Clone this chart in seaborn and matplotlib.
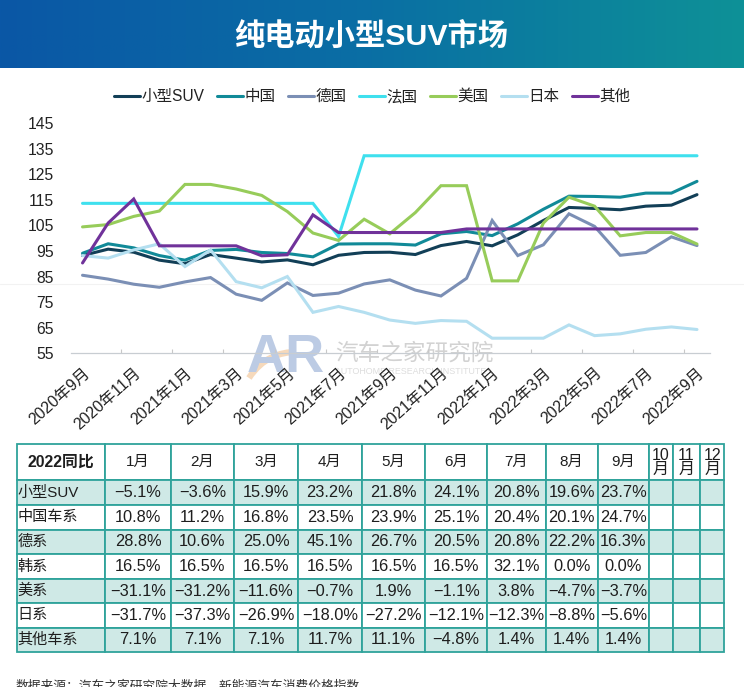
import numpy as np
import pandas as pd
import seaborn as sns
import matplotlib
matplotlib.use("Agg")
import matplotlib.pyplot as plt
from matplotlib.ticker import FixedLocator
from matplotlib.path import Path
from matplotlib.patches import PathPatch
from matplotlib.transforms import ScaledTranslation

months = ["2020年9月","2020年10月","2020年11月","2020年12月","2021年1月","2021年2月","2021年3月","2021年4月","2021年5月",
          "2021年6月","2021年7月","2021年8月","2021年9月","2021年10月","2021年11月","2021年12月","2022年1月","2022年2月",
          "2022年3月","2022年4月","2022年5月","2022年6月","2022年7月","2022年8月","2022年9月"]
small_suv = [93.2,95.7,94.5,91.4,90.0,93.6,92.2,90.7,91.5,89.6,93.3,94.4,94.5,93.6,97.1,98.7,97.0,101.3,106.9,112.0,111.6,111.1,112.5,112.9,117.0]
china = [94.1,97.8,96.2,93.2,91.4,95.2,95.6,94.4,94.0,92.7,97.7,97.8,97.8,97.3,101.7,102.6,101.0,105.6,111.3,116.4,116.3,116.0,117.6,117.6,122.2]
germany = [85.5,84.0,82.0,80.8,82.9,84.6,78.1,75.7,82.5,77.6,78.5,82.1,83.7,79.7,77.4,84.3,106.9,93.2,97.4,109.5,104.6,93.3,94.4,100.5,97.1]
france = [113.6]*10 + [100.6] + [132.2]*14
usa = [104.4,105.3,108.5,110.6,121.0,121.0,119.2,116.7,110.4,102.0,99.1,107.4,101.7,110.0,120.5,120.5,83.3,83.3,105.9,116.0,112.5,100.9,102.2,102.2,97.7]
japan = [93.2,92.2,95.4,97.8,88.9,95.4,83.0,80.6,85.0,71.0,73.3,71.0,68.0,66.7,67.8,67.5,60.9,60.9,60.9,66.1,61.9,62.6,64.4,65.3,64.3]
other = [90.3,105.9,115.3,97.0,97.0,97.0,97.0,93.1,93.5,109.1,102.2,102.2,102.2,102.2,102.2,103.6,103.6,103.6,103.6,103.6,103.6,103.6,103.6,103.6,103.6]

series_names = ["小型SUV","中国","德国","法国","美国","日本","其他"]
series_values = [small_suv,china,germany,france,usa,japan,other]
colors = ["#123f57","#118a98","#7b8fb5","#3fe0ee","#97cc5a","#b4dff0","#70329a"]

table_header = ["2022同比","1月","2月","3月","4月","5月","6月","7月","8月","9月","10\n月","11\n月","12\n月"]
row_names = ["小型SUV","中国车系","德系","韩系","美系","日系","其他车系"]
row_suv = ["−5.1%","−3.6%","15.9%","23.2%","21.8%","24.1%","20.8%","19.6%","23.7%"]
row_cn = ["10.8%","11.2%","16.8%","23.5%","23.9%","25.1%","20.4%","20.1%","24.7%"]
row_de = ["28.8%","10.6%","25.0%","45.1%","26.7%","20.5%","20.8%","22.2%","16.3%"]
row_kr = ["16.5%","16.5%","16.5%","16.5%","16.5%","16.5%","32.1%","0.0%","0.0%"]
row_us = ["−31.1%","−31.2%","−11.6%","−0.7%","1.9%","−1.1%","3.8%","−4.7%","−3.7%"]
row_jp = ["−31.7%","−37.3%","−26.9%","−18.0%","−27.2%","−12.1%","−12.3%","−8.8%","−5.6%"]
row_ot = ["7.1%","7.1%","7.1%","11.7%","11.1%","−4.8%","1.4%","1.4%","1.4%"]
rows = [row_suv,row_cn,row_de,row_kr,row_us,row_jp,row_ot]

W, H = 744, 687
col_edges = [16.7,105,171,234,298,362,425.3,487,545.7,597.7,649.3,672.7,700,724.3]
row_edges = [444.3,480.3,505.3,529.7,554.3,579,603.3,627.7,652.3]

sns.set_theme(style="white")
plt.rcParams['font.family'] = ['Liberation Sans','Noto Sans CJK SC','DejaVu Sans']
plt.rcParams['axes.unicode_minus'] = True

fig = plt.figure(figsize=(W/100,H/100),dpi=100,facecolor="white")

def axpx(l,t,r,b):
    return fig.add_axes([l/W,1-b/H,(r-l)/W,(b-t)/H])

# banner
ab = axpx(0,0,W,68)
grad = np.linspace(0,1,256)[None,:]
cmap = matplotlib.colors.LinearSegmentedColormap.from_list("b",["#0a57a6","#0a6fa4","#0e9197"])
ab.imshow(grad,aspect="auto",cmap=cmap,extent=[0,1,0,1])
ab.axis("off")
ab.text(0.4995,0.475,"纯电动小型SUV市场",color="white",fontsize=21.8,fontweight="bold",ha="center",va="center",transform=ab.transAxes)

# background: faint scan line and watermark, under the chart
bg = axpx(0,0,W,H); bg.axis("off"); bg.set_xlim(0,W); bg.set_ylim(H,0); bg.set_zorder(-1)
bg.axhline(284,color="#f2f2f2",lw=0.8)
bg.text(247,358,"AR",fontsize=39,fontweight="bold",color="#bccbe4",ha="left",va="center")
arc = Path([(249,378),(262,358),(280,352),(296,352)],[Path.MOVETO,Path.CURVE4,Path.CURVE4,Path.CURVE4])
bg.add_patch(PathPatch(arc,fc="none",ec="#f6d9bb",lw=4.5))
bg.text(335,353,"汽车之家研究院",fontsize=16.3,color="#d2d2d2",ha="left",va="center")
bg.text(335,371,"AUTOHOME RESEARCH INSTITUTE",fontsize=6.4,color="#dddddd",ha="left",va="center")

# chart
ax = axpx(71,123,709.8,353.3)
df = pd.DataFrame({n:v for n,v in zip(series_names,series_values)})
df["idx"] = np.arange(len(months))
long = df.melt(id_vars="idx",var_name="系列",value_name="值")
sns.lineplot(data=long,x="idx",y="值",hue="系列",hue_order=series_names,palette=colors,
             linewidth=2.2,ax=ax,sort=False,errorbar=None,estimator=None)
for ln in ax.get_lines():
    ln.set_solid_joinstyle("miter")
ax.patch.set_alpha(0)
ax.set_xlim(-0.45,24.5); ax.set_ylim(55,145)
ax.set_yticks(np.arange(55,146,10))
ax.set_xticks(np.arange(0,25,2))
ax.set_xticklabels(months[::2],rotation=42,ha="right",rotation_mode="anchor",fontsize=11.4,color="#222222")
shift = ScaledTranslation(-4/100,0,fig.dpi_scale_trans)
for lab in ax.get_xticklabels():
    lab.set_transform(lab.get_transform()+shift)
ax.xaxis.set_minor_locator(FixedLocator(np.arange(-0.5,25,2)))
ax.tick_params(axis="x",which="major",length=0,pad=8.5)
ax.tick_params(axis="x",which="minor",length=3,direction="in",color="#c8c8c8",width=0.8,bottom=True)
ax.tick_params(axis="y",length=0,labelsize=11.3,labelcolor="#222222",pad=12.5)
ax.set_xlabel(""); ax.set_ylabel("")
for s in ["top","left","right"]:
    ax.spines[s].set_visible(False)
ax.spines["bottom"].set_color("#c8cdd2"); ax.spines["bottom"].set_linewidth(0.9)
h,l = ax.get_legend_handles_labels()
leg = ax.legend(h,l,ncol=7,loc="center",bbox_to_anchor=(372.5/W,1-96.5/H),bbox_transform=fig.transFigure,frameon=False,
          fontsize=11.2,handlelength=1.65,handletextpad=0.1,columnspacing=0.82,borderpad=0)
for t in leg.get_texts():
    t.set_color("#222222")

# table
at = axpx(col_edges[0],row_edges[0],col_edges[-1],row_edges[-1]); at.axis("off")
tw = col_edges[-1]-col_edges[0]; th = row_edges[-1]-row_edges[0]
cw = [(b-a)/tw for a,b in zip(col_edges[:-1],col_edges[1:])]
cells = [table_header]
for n,r in zip(row_names,rows):
    cells.append([n]+r+["","",""])
tb = at.table(cellText=cells,colWidths=cw,bbox=[0,0,1,1],cellLoc="center")
tb.auto_set_font_size(False)
for (i,j),c in tb.get_celld().items():
    c.set_height((row_edges[i+1]-row_edges[i])/th)
    c.set_edgecolor("#2fa39b"); c.set_linewidth(1.3)
    c.set_facecolor("#cfe9e6" if i%2==1 else "white")
    txt = c.get_text()
    txt.set_fontsize(11.8); txt.set_color("#1e1e1e")
    c.PAD = 0.01
    if j==0 and i>0:
        txt.set_ha("left"); c._loc="left"
        txt.set_fontsize(10.9)
    if i==0:
        txt.set_fontsize(11)
    if i==0 and j==0:
        txt.set_fontweight("bold"); txt.set_fontsize(11.4)
    if i==0 and j>=10:
        txt.set_fontsize(11.5); txt.set_linespacing(0.95)

fig.text(16/W,1-686/H,"数据来源：汽车之家研究院大数据，新能源汽车消费价格指数",fontsize=9.2,color="#333333",ha="left",va="center")
fig.savefig("out.png",dpi=100)
